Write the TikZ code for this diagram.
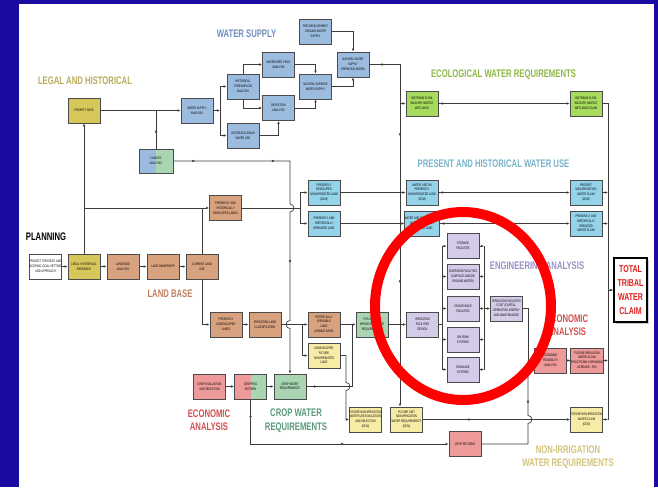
\documentclass[tikz,border=0pt]{standalone}
\usepackage{fontspec}
\setmainfont{Liberation Sans}
\newfontfamily\boxfont[FakeStretch=0.7]{Liberation Sans}
\newfontfamily\headfont[FakeStretch=0.7]{Liberation Sans}
\usetikzlibrary{arrows.meta,decorations.markings,shadows}

\definecolor{bgblue}{RGB}{26,12,160}
\definecolor{boxline}{RGB}{75,75,75}
\definecolor{linegray}{RGB}{60,60,60}
\definecolor{legalfill}{RGB}{214,199,90}
\definecolor{wsfill}{RGB}{156,188,223}
\definecolor{ecofill}{RGB}{166,219,94}
\definecolor{presfill}{RGB}{148,211,234}
\definecolor{landfill}{RGB}{217,162,127}
\definecolor{cropfill}{RGB}{169,213,179}
\definecolor{econfill}{RGB}{238,154,154}
\definecolor{engfill}{RGB}{212,203,232}
\definecolor{nonfill}{RGB}{247,236,166}
\definecolor{legalc}{RGB}{185,173,92}
\definecolor{wsc}{RGB}{111,143,191}
\definecolor{ecolc}{RGB}{143,184,69}
\definecolor{presc}{RGB}{120,180,204}
\definecolor{landc}{RGB}{192,128,96}
\definecolor{engc}{RGB}{156,144,196}
\definecolor{econc}{RGB}{208,80,80}
\definecolor{cropc}{RGB}{90,154,120}
\definecolor{nonc}{RGB}{212,196,124}
\definecolor{claimc}{RGB}{224,32,32}

\tikzset{
  box/.style={draw=boxline, line width=0.8pt, fill=#1, minimum width=32pt,
    minimum height=25pt, inner sep=0pt, align=center,
    font=\boxfont\fontsize{3.6}{4.8}\selectfont,
    drop shadow={shadow xshift=0.8pt,shadow yshift=-0.8pt,opacity=0.35}},
  head/.style={font=\headfont\bfseries\fontsize{11}{13.5}\selectfont,
    text=#1, align=center, inner sep=0pt},
  link/.style={draw=linegray, line width=0.7pt},
  midarr/.style={postaction={decorate,decoration={markings,
    mark=at position #1 with {\arrow{>}}}}},
  midarr/.default=0.5,
  halfgreen/.style={path picture={\fill[cropfill]
    (path picture bounding box.north) rectangle (path picture bounding box.south east);}}
}

\begin{document}
\begin{tikzpicture}[x=1pt,y=-1pt,>={Latex[length=3pt,width=2.6pt]}]
    % slide background
    \fill[bgblue] (0,0) rectangle (658,487);
    \fill[white] (19,4) rectangle (654,487);

    % Legal and historical
    \node[head=legalc] at (85,81) {LEGAL AND HISTORICAL};
    \node[box=legalfill] (prio) at (84,110.5) {PRIORITY DATE};

    % Water supply
    \node[head=wsc] at (246.5,34) {WATER SUPPLY};
    \node[box=wsfill] (wsa) at (197,110.5) {WATER SUPPLY\\ANALYSIS};
    \node[box=wsfill, halfgreen, minimum width=34pt, minimum height=24pt] (clim) at (156,161) {CLIMATIC\\ANALYSIS};
    \node[box=wsfill] (hsf) at (243,86.5) {HISTORICAL\\STREAMFLOW\\ANALYSIS};
    \node[box=wsfill] (hbw) at (243,135.5) {HISTORICAL BASIN\\WATER USE};
    \node[box=wsfill] (wya) at (278.5,64.5) {WATERSHED YIELD\\ANALYSIS};
    \node[box=wsfill] (dep) at (278.5,108) {DEPLETION\\ANALYSIS};
    \node[box=wsfill] (nsw) at (315.5,86.5) {NATURAL SURFACE\\WATER SUPPLY};
    \node[box=wsfill] (pgw) at (315.5,31.5) {PRE-DEVELOPMENT\\GROUND WATER\\SUPPLY};
    \node[box=wsfill] (nwsom) at (353,64.5) {NATURAL WATER\\SUPPLY\\OPERATION MODEL};

    % Ecological water requirements
    \node[head=ecolc] at (503.5,75) {ECOLOGICAL WATER REQUIREMENTS};
    \node[box=ecofill] (isf) at (422,103.5) {INSTREAM FLOW,\\WILDLIFE HABITAT,\\WETLANDS};
    \node[box=ecofill] (isfc) at (586,103.5) {INSTREAM FLOW,\\WILDLIFE HABITAT,\\WETLANDS CLAIM};

    % Present and historical water use
    \node[head=presc] at (493.5,164) {PRESENT AND HISTORICAL WATER USE};
    \node[box=landfill] (phdl) at (225.5,208) {PRESENTLY AND\\HISTORICALLY\\DEVELOPED LANDS};
    \node[box=presfill] (pdnl) at (324,192.5) {PRESENTLY\\DEVELOPED\\NON-IRRIGATED LAND\\(DCM)};
    \node[box=presfill] (phil) at (324,223.5) {PRESENTLY AND\\HISTORICALLY\\IRRIGATED LAND};
    \node[box=presfill] (wunl) at (422,192.5) {WATER USE ON\\PRESENTLY\\NON-IRRIGATED LAND\\(DCM)};
    \node[box=presfill] (whil) at (422,223.5) {WATER USE ON PRESENTLY\\AND HISTORICALLY\\IRRIGATED LAND};
    \node[box=presfill] (pnwc) at (586,192.5) {PRESENT\\NON-IRRIGATION\\WATER CLAIM\\(DCM)};
    \node[box=presfill] (phiwc) at (586,223.5) {PRESENTLY AND\\HISTORICALLY\\IRRIGATED\\WATER CLAIM};

    % Planning and land base
    \node[head=black] at (46,237) {PLANNING};
    \node[box=white] (proj) at (45.5,266.5) {PROJECT STRATEGY AND\\SCOPING, GOAL SETTING\\AND APPROACH};
    \node[box=legalfill] (lhr) at (84,266.5) {LEGAL / HISTORICAL\\RESEARCH};
    \node[box=landfill] (lba) at (123,266.5) {LAND BASE\\ANALYSIS};
    \node[box=landfill] (lown) at (163,266.5) {LAND OWNERSHIP};
    \node[box=landfill] (clu) at (202,266.5) {CURRENT LAND\\USE};
    \node[head=landc] at (170,294) {LAND BASE};
    \node[box=landfill] (pul) at (226,324.5) {PRESENTLY\\UNDEVELOPED\\LANDS};
    \node[box=landfill] (ilc) at (265,324.5) {IRRIGATION LAND\\CLASSIFICATION};
    \node[box=landfill] (pil) at (324,324.5) {POTENTIALLY\\IRRIGABLE\\LAND\\(ARABLE BASE)};
    \node[box=nonfill] (ufnl) at (324,355.5) {UNDEVELOPED\\FUTURE\\NON-IRRIGATED\\LAND};
    \node[box=cropfill] (fuiwr) at (372,324.5) {FUTURE UNIT\\IRRIGATION WATER\\REQUIREMENTS};

    % Engineering analysis
    \node[head=engc] at (537,266) {ENGINEERING ANALYSIS};
    \node[box=engfill] (ifd) at (422.5,324.5) {IRRIGATION\\FACILITIES\\DESIGN};
    \node[box=engfill] (stor) at (463,246) {STORAGE\\FACILITIES};
    \node[box=engfill] (div) at (463,276.5) {DIVERSION FACILITIES\\(SURFACE AND/OR\\GROUND WATER)};
    \node[box=engfill] (conv) at (463,308.5) {CONVEYANCE\\FACILITIES};
    \node[box=engfill] (onf) at (463,339.5) {ON-FARM\\SYSTEMS};
    \node[box=engfill] (drain) at (463,369.5) {DRAINAGE\\SYSTEMS};
    \node[box=engfill] (cost) at (506.5,308.5) {IRRIGATION FACILITIES\\COST (CAPITAL,\\OPERATION, ENERGY\\AND MAINTENANCE)};

    % Economic analysis
    \node[head=econc] at (567,325) {ECONOMIC\\ANALYSIS};
    \node[box=econfill] (efa) at (550.5,360.5) {ECONOMIC\\FEASIBILITY\\ANALYSIS};
    \node[box=econfill] (fiwc) at (587,360.5) {FUTURE IRRIGATION\\WATER CLAIM\\(PRACTICABLY IRRIGABLE\\ACREAGE - PIA)};
    \node[head=econc] at (209,420) {ECONOMIC\\ANALYSIS};
    \node[box=econfill] (ces) at (209.5,386.5) {CROP EVALUATION\\AND SELECTION};
    \node[box=econfill] (cret) at (465,444) {CROP RETURNS};

    % Crop water requirements
    \node[head=cropc] at (296,420.5) {CROP WATER\\REQUIREMENTS};
    \node[box=econfill, halfgreen] (cpat) at (250.5,386.5) {CROPPING\\PATTERN};
    \node[box=cropfill] (cwr) at (290,386.5) {CROP WATER\\REQUIREMENTS};

    % Non-irrigation water requirements
    \node[head=nonc] at (568,457) {NON-IRRIGATION\\WATER REQUIREMENTS};
    \node[box=nonfill] (fnes) at (365.5,419.5) {FUTURE NON-IRRIGATION\\WATER USE EVALUATION\\AND SELECTION\\(DCM)};
    \node[box=nonfill] (fun) at (406.5,419.5) {FUTURE UNIT\\NON-IRRIGATION\\WATER REQUIREMENTS\\(DCM)};
    \node[box=nonfill] (fnwc) at (586.5,419.5) {FUTURE NON-IRRIGATION\\WATER CLAIM\\(DCM)};

    % Total claim
    \node[draw=black, line width=1.6pt, fill=white, minimum width=33pt, minimum height=64pt,
      inner sep=0pt, align=center, text=claimc,
      font=\headfont\bfseries\fontsize{10}{14}\selectfont,
      drop shadow={shadow xshift=1.5pt,shadow yshift=-1.5pt,opacity=0.4}]
      (ttwc) at (630.5,290) {TOTAL\\TRIBAL\\WATER\\CLAIM};

    % legal and planning links
    \draw[link,->] (prio.east) -- (wsa.west);
    \draw[link,midarr] (clim.north) -- (clim.north |- prio.east);
    \draw[link,->] (lhr.north) -- (prio.south);
    \coordinate (lj) at (84,208);
    \draw[link,->] (lj) -- (phdl.west);
    \draw[link] (clu.north) -- (clu.north |- lj);
    \draw[link,->] (clu.south) |- (pul.west);
    \draw[link,->] (proj.east) -- (lhr.west);
    \draw[link,->] (lhr.east) -- (lba.west);
    \draw[link,->] (lba.east) -- (lown.west);
    \draw[link,->] (lown.east) -- (clu.west);

    % water supply links
    \coordinate (wsj) at (220,110.5);
    \draw[link,->] (wsa.east) -- (wsj);
    \draw[link,->] (wsj) |- (hsf.west);
    \draw[link,->] (wsj) |- (hbw.west);
    \draw[link,->] (hsf.north) |- (wya.west);
    \draw[link,->] (hsf.south) |- (dep.west);
    \draw[link,->] (hbw.east) -| (dep.south);
    \draw[link,->] (wya.east) -| (nsw.north);
    \draw[link,->] (dep.east) -| (nsw.south);
    \draw[link,->] (nsw.east) -| (nwsom.south);
    \draw[link,->] (pgw.east) -| (nwsom.north);

    % natural supply trunk
    \coordinate (nt) at (400,64.5);
    \draw[link,midarr] (nwsom.east) -- (nt);
    \draw[link,->,midarr=0.21,midarr=0.64] (nt) -- (nt |- fun.north);
    \draw[link,->] (nt |- isf.west) -- (isf.west);
    \draw[link,->,midarr=0.05] (isf.east) -- (isfc.west);

    % climatic to crop water, jumping the land lines
    \draw[link,->,midarr=0.065,midarr=0.3,midarr=0.66] (clim.east) -- (290,161) -- (290,204)
      arc[start angle=90,end angle=-90,radius=4pt] -- (290,320.5)
      arc[start angle=90,end angle=270,radius=4pt] -- (cwr.north);

    % present use links
    \coordinate (pj) at (300,208);
    \draw[link] (phdl.east) -- (pj);
    \draw[link,->] (pj) |- (pdnl.west);
    \draw[link,->] (pj) |- (phil.west);
    \draw[link,->] (pdnl.east) -- (wunl.west);
    \draw[link,->] (phil.east) -- (whil.west);
    \draw[link,->,midarr=0.05] (wunl.east) -- (pnwc.west);
    \draw[link,->,midarr=0.05] (whil.east) -- (phiwc.west);

    % land base to future irrigation
    \draw[link,->] (pul.east) -- (ilc.west);
    \coordinate (ij) at (302,324.5);
    \draw[link] (ilc.east) -- (ij);
    \draw[link,->] (ij) -- (pil.west);
    \draw[link,->] (ij) |- (ufnl.west);
    \draw[link,->] (pil.east) -- (fuiwr.west);
    \draw[link,midarr=0.1] (cwr.east) -- (352,386.5) -- (352,324.5);
    \draw[link,->] (ufnl.east) -- (346,355.5) -- (346,382.5)
      arc[start angle=90,end angle=-90,radius=4pt] -- (346,419.5) -- (fnes.west);
    \draw[link,->] (fuiwr.east) -- (ifd.west);

    % engineering links
    \coordinate (el) at (442,324.5);
    \coordinate (er) at (484,308.5);
    \draw[link] (ifd.east) -- (el);
    \draw[link] (el |- stor.west) -- (el |- drain.west);
    \draw[link] (er |- stor.east) -- (er |- drain.east);
    \foreach \n in {stor,div,conv,onf,drain} {
        \draw[link,->] (el |- \n.west) -- (\n.west);
        \draw[link,->] (\n.east) -- (er |- \n.east);
    }
    \draw[link,->] (er) -- (cost.west);

    % economic links
    \coordinate (ej) at (528,360.5);
    \draw[link] (cost.east) -| (ej);
    \draw[link,->] (ej) -- (efa.west);
    \draw[link,midarr=0.71] (cret.east) -- (528,444) -- (528,423.5)
      arc[start angle=-90,end angle=90,radius=4pt] -- (ej);
    \draw[link,->] (efa.east) -- (fiwc.west);
    \draw[link,->,midarr=0.33] (fun.east) -- (fnwc.west);

    % crop links
    \draw[link,->] (ces.east) -- (cpat.west);
    \draw[link,->] (cpat.east) -- (cwr.west);
    \draw[link,->,midarr=0.08,midarr=0.57] (cpat.south) |- (cret.west);

    % claims bus
    \coordinate (cb) at (608,103.5);
    \draw[link] (isfc.east) -- (cb) -- (cb |- fnwc.east);
    \foreach \n in {pnwc,phiwc,fiwc,fnwc} {
        \draw[link,->] (\n.east) -- (cb |- \n.east);
    }
    \draw[link,->] (cb |- ttwc.west) -- (ttwc.west);

    % red highlight ring
    \draw[red, line width=10pt] (463,306) ellipse [x radius=88pt, y radius=94pt];
\end{tikzpicture}
\end{document}
